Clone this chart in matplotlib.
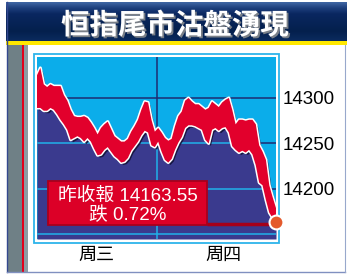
import numpy as np
import matplotlib
matplotlib.use('Agg')
import matplotlib.pyplot as plt
import matplotlib.patheffects as pe
from matplotlib.patches import Rectangle
from matplotlib.colors import LinearSegmentedColormap

title = '恒指尾市沽盤湧現'
day_labels = ['周三', '周四']
y_ticks = [14200, 14250, 14300]
grid_levels = [14150, 14200, 14250, 14300]
close_text = '昨收報 14163.55'
change_text = '跌 0.72%'
last_close = 14163.55

# upper / lower edge of the red price band
high = [14325, 14333, 14315, 14312, 14315, 14313, 14313, 14313, 14303, 14297,
        14287, 14280, 14279, 14279, 14280, 14278, 14273, 14267, 14260, 14267,
        14271, 14274, 14266, 14258, 14255, 14252, 14252, 14255, 14263, 14269,
        14276, 14287, 14296, 14295, 14276, 14263, 14267, 14262, 14256, 14253,
        14255, 14269, 14280, 14285, 14297, 14300, 14296, 14293, 14293, 14290,
        14287, 14289, 14296, 14293, 14290, 14295, 14298, 14300, 14287, 14271,
        14276, 14276, 14275, 14276, 14276, 14271, 14248, 14241, 14232, 14204,
        14191, 14179]
low = [14289, 14289, 14286, 14286, 14289, 14287, 14282, 14276, 14271, 14265,
       14254, 14256, 14258, 14256, 14252, 14256, 14252, 14244, 14237, 14238,
       14243, 14246, 14241, 14236, 14233, 14229, 14230, 14234, 14242, 14247,
       14252, 14259, 14264, 14262, 14248, 14246, 14252, 14241, 14232, 14229,
       14233, 14243, 14251, 14257, 14267, 14270, 14270, 14269, 14267, 14265,
       14254, 14250, 14265, 14267, 14264, 14267, 14268, 14262, 14247, 14243,
       14240, 14242, 14240, 14243, 14238, 14226, 14207, 14204, 14188, 14174,
       14168, 14163.55]

W, H = 351, 277
SKY = '#0badea'
INDIGO = '#3a3a8e'
RED = '#e2002c'


def px_box(x0, y0, x1, y1):
    return [x0 / W, 1 - y1 / H, (x1 - x0) / W, (y1 - y0) / H]


plt.rcParams['font.family'] = ['Liberation Sans', 'Noto Sans CJK TC']

fig = plt.figure(figsize=(W / 100, H / 100), dpi=100)
fig.patch.set_facecolor('white')

# page decoration in pixel coordinates
bg = fig.add_axes([0, 0, 1, 1])
band_cmap = LinearSegmentedColormap.from_list(
    'band', [(0, '#3f66a3'), (0.15, '#1d3f7c'), (0.3, '#0a2760'),
             (0.75, '#04204d'), (1, '#0b2b5e')])
bg.imshow(np.linspace(0, 1, 60).reshape(-1, 1), cmap=band_cmap,
          extent=(6, 347, 41, 2), aspect='auto')
bg.add_patch(Rectangle((6, 41), 341, 4, color='#ffe800', lw=0))
bg.add_patch(Rectangle((7, 45), 15, 227, color='#6f8086', lw=0))
bg.add_patch(Rectangle((22, 45), 2.2, 227, color='#e3001b', lw=0))
bg.add_patch(Rectangle((24.2, 45), 4, 227, color='#8d9ca2', lw=0))
bg.plot([6.5, 6.5], [2, 272], color='#34488f', lw=1)
bg.plot([6.5, 345], [272, 272], color='#8090c0', lw=1)
bg.plot([345, 345], [45, 272], color='#98a8cc', lw=0.8)
bg.add_patch(Rectangle((33.5, 53.5), 245, 189, fill=False,
                       edgecolor='#2db4ea', lw=1.3))
bg.text(175, 26, title, color='white', fontsize=20.5, fontweight='bold',
        family=['Noto Sans CJK TC'], ha='center', va='center',
        path_effects=[pe.withSimplePatchShadow(offset=(1.3, -1.3),
                                               shadow_rgbFace='#7a8088',
                                               alpha=1)])
bg.set_xlim(0, W)
bg.set_ylim(H, 0)
bg.axis('off')

# chart
ax = fig.add_axes(px_box(37, 57, 276, 239))
x = np.arange(len(high))
day_split = (len(high) - 1) / 2
ax.set_xlim(0, len(high) - 1)
ax.set_ylim(14145, 14345)
ax.set_facecolor(SKY)
bottom = ax.get_ylim()[0]

for level in grid_levels:
    ax.axhline(level, color='#1d2c72', lw=1.1, zorder=1)
ax.axvline(day_split, color='#1d2c72', lw=1.1, zorder=1)

area = ax.fill_between(x, bottom, low, color=INDIGO, lw=0, zorder=2)
clip = area.get_paths()[0]
for level in grid_levels:
    ln = ax.axhline(level, color='#20b2ea', lw=1.1, zorder=3)
    ln.set_clip_path(clip, ax.transData)
ln = ax.axvline(day_split, color='#20b2ea', lw=1.1, zorder=3)
ln.set_clip_path(clip, ax.transData)

ax.fill_between(x, low, high, color=RED, lw=0, zorder=4,
                path_effects=[pe.SimplePatchShadow(offset=(1.6, -1.8),
                                                   shadow_rgbFace='#13133a',
                                                   alpha=0.9),
                              pe.Stroke(linewidth=2.2, foreground='white'),
                              pe.Normal()])

# label box for the close
box = Rectangle((0.046, 0.075), 0.665, 0.245, transform=ax.transAxes,
                facecolor='#dc0027', edgecolor='#a8001c', lw=1.3, zorder=6)
ax.add_patch(box)
ax.hlines(last_close - 2, 0.711 * (len(high) - 1), len(high) - 1,
          color='#a5001a', lw=2.5, zorder=5)
ax.text(0.38, 0.235, close_text, transform=ax.transAxes, color='white',
        fontsize=13.5, ha='center', va='center', zorder=7)
ax.text(0.38, 0.13, change_text, transform=ax.transAxes, color='white',
        fontsize=13.5, ha='center', va='center', zorder=7)
ax.plot(x[-1], last_close, 'o', ms=10, color='#e45a2c', mec='white',
        mew=1.5, zorder=8, clip_on=False)

ax.yaxis.tick_right()
ax.set_yticks(y_ticks)
ax.set_yticklabels([str(v) for v in y_ticks], fontsize=13.5)
ax.set_xticks([day_split / 2, day_split * 1.5 + 2])
ax.set_xticklabels(day_labels, fontsize=13, family=['Noto Sans CJK TC'])
ax.tick_params(length=0, pad=5)
ax.tick_params(axis='x', pad=5)
for s in ax.spines.values():
    s.set_visible(False)

fig.savefig('out.png', dpi=100)
